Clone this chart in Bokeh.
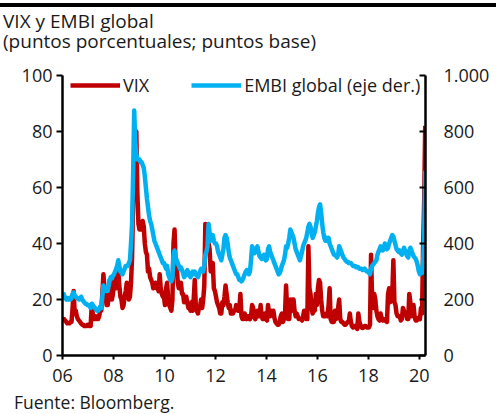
from bokeh.plotting import figure
from bokeh.layouts import column
from bokeh.models import (Range1d, LinearAxis, FixedTicker, Div,
                          Legend, LegendItem, ColumnDataSource)
from bokeh.embed import file_html
from bokeh.resources import INLINE

# ---------------- data (semi-monthly readings, Jan 2006 - Mar 2020) ----------------
vix_2006 = [12, 13, 12.5, 12, 11.5, 11.5, 11.5, 12, 12, 17, 23, 15, 16, 14, 13, 12.5, 12, 11.5, 11, 11, 10.5, 10.5, 10.5, 11]
vix_2007 = [11, 10.5, 10.5, 18, 15, 13, 13, 14, 13, 13, 14, 16, 16, 22, 29, 24, 22, 18, 18, 21, 27, 23, 20, 22]
vix_2008 = [26, 29, 24, 25, 30, 25, 21, 20, 17, 18, 21, 23, 26, 23, 20, 21, 26, 35, 55, 70, 65, 80, 58, 47]
vix_2009 = [45, 45, 45, 48, 46, 40, 37, 36, 30, 31, 28, 27, 26, 24, 25, 26, 24, 24, 23, 29, 24, 22, 21, 21]
vix_2010 = [18, 24, 26, 20, 18, 17, 16, 20, 40, 45, 32, 33, 26, 24, 24, 26, 22, 22, 19, 20, 21, 19, 17, 17.5]
vix_2011 = [16, 19, 16, 20, 27, 18, 16, 15, 17, 17.5, 20, 17, 20, 25, 47, 38, 38, 40, 38, 30, 32, 33, 24, 23]
vix_2012 = [21, 19, 18, 17, 15, 15, 19, 18, 21, 25, 22, 19, 17, 18, 15, 16, 15, 16, 16, 18, 17, 16, 17, 22]
vix_2013 = [14, 13, 13, 15, 13, 13, 14, 14, 13, 14, 18, 17, 14, 13, 14, 16, 14, 14, 18, 14, 13, 13, 15, 13]
vix_2014 = [12.5, 18, 15, 14, 16, 15, 16, 13.5, 12, 11.5, 11, 11, 12, 14, 15, 12, 13, 15, 25, 16, 13, 13, 20, 16]
vix_2015 = [20, 20, 16, 14, 15, 14, 13, 13, 13, 12.5, 14, 16, 14, 13, 13, 39, 24, 22, 17, 15, 16, 16, 22, 18]
vix_2016 = [24, 27, 26, 20, 16, 14, 14, 14, 15, 14, 18, 24, 13, 12, 12, 12, 16, 13, 15, 17, 20, 13, 12, 12]
vix_2017 = [11.5, 11, 11, 11.5, 12, 12, 15, 12, 10.5, 10, 10.5, 10.5, 10, 9.5, 15, 12, 11, 10, 9.8, 10, 10.5, 10.5, 10, 10]
vix_2018 = [10, 11, 36, 20, 17, 22, 20, 16, 14, 13, 12.5, 15, 13, 12.5, 13, 12.5, 13, 12, 22, 24, 19, 20, 22, 34]
vix_2019 = [19, 18, 15, 14, 14, 14, 12.5, 13, 17, 16, 15, 15, 13, 13, 22, 19, 14, 15, 18, 14, 12.5, 12.5, 13, 13.5]
vix_2020 = [13, 17, 15, 39, 55, 82]

embi_2006 = [225, 215, 205, 200, 205, 200, 205, 200, 205, 220, 225, 215, 210, 205, 205, 200, 200, 210, 200, 195, 190, 185, 185, 180]
embi_2007 = [180, 175, 170, 185, 180, 175, 170, 165, 160, 160, 165, 175, 170, 210, 250, 240, 240, 230, 230, 250, 270, 280, 275, 285]
embi_2008 = [290, 300, 310, 320, 340, 320, 300, 295, 290, 300, 310, 320, 320, 320, 330, 340, 400, 470, 650, 875, 760, 720, 700, 700]
embi_2009 = [700, 690, 690, 680, 670, 640, 600, 560, 530, 500, 480, 470, 450, 430, 410, 400, 390, 380, 370, 360, 350, 340, 330, 330]
embi_2010 = [320, 310, 320, 290, 280, 270, 265, 275, 360, 375, 350, 340, 330, 320, 310, 315, 305, 295, 280, 285, 295, 305, 295, 285]
embi_2011 = [280, 290, 300, 290, 300, 290, 285, 280, 290, 300, 310, 305, 300, 320, 360, 370, 390, 470, 440, 410, 420, 430, 410, 400]
embi_2012 = [400, 390, 370, 360, 350, 340, 360, 380, 420, 430, 420, 400, 370, 350, 340, 330, 320, 310, 300, 290, 290, 280, 270, 270]
embi_2013 = [265, 270, 280, 290, 300, 305, 300, 290, 300, 340, 390, 380, 365, 370, 380, 390, 370, 355, 350, 345, 350, 360, 345, 340]
embi_2014 = [345, 380, 390, 370, 360, 350, 340, 330, 320, 310, 300, 290, 295, 305, 320, 330, 340, 360, 390, 385, 400, 420, 450, 440]
embi_2015 = [430, 420, 400, 380, 370, 360, 350, 340, 355, 370, 390, 400, 410, 420, 440, 460, 470, 460, 440, 420, 430, 440, 460, 480]
embi_2016 = [510, 530, 540, 510, 470, 440, 420, 410, 420, 410, 420, 400, 390, 380, 370, 360, 360, 355, 350, 360, 390, 380, 370, 360]
embi_2017 = [350, 345, 340, 335, 335, 330, 330, 330, 325, 320, 320, 320, 315, 315, 315, 310, 310, 310, 305, 305, 310, 305, 300, 300]
embi_2018 = [295, 290, 310, 320, 325, 330, 335, 340, 360, 370, 380, 390, 385, 375, 380, 400, 390, 380, 385, 400, 410, 420, 430, 425]
embi_2019 = [410, 395, 380, 375, 370, 375, 365, 360, 370, 385, 375, 365, 355, 350, 375, 385, 375, 365, 355, 350, 345, 335, 320, 300]
embi_2020 = [290, 300, 295, 330, 420, 660]

x_ticks = [2006, 2008, 2010, 2012, 2014, 2016, 2018, 2020]
x_tick_labels = ["06", "08", "10", "12", "14", "16", "18", "20"]
left_ticks = [0, 20, 40, 60, 80, 100]
right_ticks = [0, 200, 400, 600, 800, 1000]
right_tick_labels = ["0", "200", "400", "600", "800", "1.000"]

title_1 = "VIX y EMBI global"
title_2 = "(puntos porcentuales; puntos base)"
source_note = "Fuente: Bloomberg."
vix_name = "VIX"
embi_name = "EMBI global (eje der.)"

vix = (vix_2006 + vix_2007 + vix_2008 + vix_2009 + vix_2010 + vix_2011 + vix_2012 +
       vix_2013 + vix_2014 + vix_2015 + vix_2016 + vix_2017 + vix_2018 + vix_2019 + vix_2020)
embi = (embi_2006 + embi_2007 + embi_2008 + embi_2009 + embi_2010 + embi_2011 + embi_2012 +
        embi_2013 + embi_2014 + embi_2015 + embi_2016 + embi_2017 + embi_2018 + embi_2019 + embi_2020)
t = [2006 + (i + 0.5) / 24 for i in range(len(vix))]

src = ColumnDataSource(data=dict(t=t, vix=vix, embi=embi))

# ---------------- styling ----------------
FONT = "Open Sans"
TXT = "#1a1a1a"
RED = "#C00000"
BLUE = "#00B0F0"
W = 496

header = Div(
    text=(f'<div style="position:relative;width:{W}px;height:62px;margin:0;padding:0;'
          f'font-family:\'{FONT}\';color:{TXT};">'
          f'<div style="position:absolute;left:0;top:3px;width:{W}px;height:4px;background:#000;"></div>'
          f'<div style="position:absolute;left:3px;top:10.5px;font-size:19px;line-height:20px;'
          f'white-space:nowrap;">{title_1}<br>{title_2}</div></div>'),
    width=W, height=62, margin=0)

footer = Div(
    text=(f'<div style="position:relative;width:{W}px;height:19px;margin:0;padding:0;'
          f'font-family:\'{FONT}\';color:{TXT};">'
          f'<div style="position:absolute;left:14px;top:-2px;font-size:17.5px;line-height:19px;'
          f'white-space:nowrap;">{source_note}</div></div>'),
    width=W, height=19, margin=0)

p = figure(width=W, height=333, output_backend="svg", toolbar_location=None,
           x_range=Range1d(2006, 2020.24), y_range=Range1d(0, 100),
           min_border_left=62, min_border_right=71, min_border_top=13, min_border_bottom=40,
           margin=0)
p.extra_y_ranges = {"embi": Range1d(0, 1000)}
p.outline_line_color = None
p.xgrid.visible = False
p.ygrid.visible = False
p.background_fill_color = "white"
p.border_fill_color = "white"

r_vix = p.line("t", "vix", source=src, color=RED, line_width=4.5, line_join="round")
r_embi = p.line("t", "embi", source=src, color=BLUE, line_width=4.5, line_join="round",
                y_range_name="embi")

# x axis
xa = p.xaxis[0]
xa.ticker = FixedTicker(ticks=x_ticks)
xa.major_label_overrides = {k: v for k, v in zip(x_ticks, x_tick_labels)}
xa.minor_tick_line_color = None
xa.major_tick_out = 4
xa.major_tick_in = 0
xa.major_label_standoff = 9

# left axis
ya = p.yaxis[0]
ya.ticker = FixedTicker(ticks=left_ticks)
ya.minor_tick_line_color = None
ya.major_tick_out = 6
ya.major_tick_in = 0
ya.major_label_standoff = 4

# right axis
ra = LinearAxis(y_range_name="embi", ticker=FixedTicker(ticks=right_ticks))
ra.major_label_overrides = {k: v for k, v in zip(right_ticks, right_tick_labels)}
ra.minor_tick_line_color = None
ra.major_tick_out = 0
ra.major_tick_in = 6
ra.major_label_standoff = 18
p.add_layout(ra, "right")

for ax in (xa, ya, ra):
    ax.axis_line_width = 2.5
    ax.axis_line_color = "black"
    ax.major_tick_line_width = 2
    ax.major_tick_line_color = "black"
    ax.major_label_text_font = FONT
    ax.major_label_text_font_size = "18px"
    ax.major_label_text_color = TXT

# legend
legend = Legend(items=[LegendItem(label=vix_name, renderers=[r_vix]),
                       LegendItem(label=embi_name, renderers=[r_embi])],
                location=(8, 258), orientation="horizontal",
                padding=0, margin=0, spacing=42, label_standoff=3,
                glyph_width=50, glyph_height=20, label_height=20,
                label_text_font=FONT, label_text_font_size="18px", label_text_color=TXT,
                background_fill_alpha=0, border_line_color=None)
p.add_layout(legend)

layout = column(header, p, footer, spacing=0)
open("out.html", "w").write(file_html(layout, INLINE))
